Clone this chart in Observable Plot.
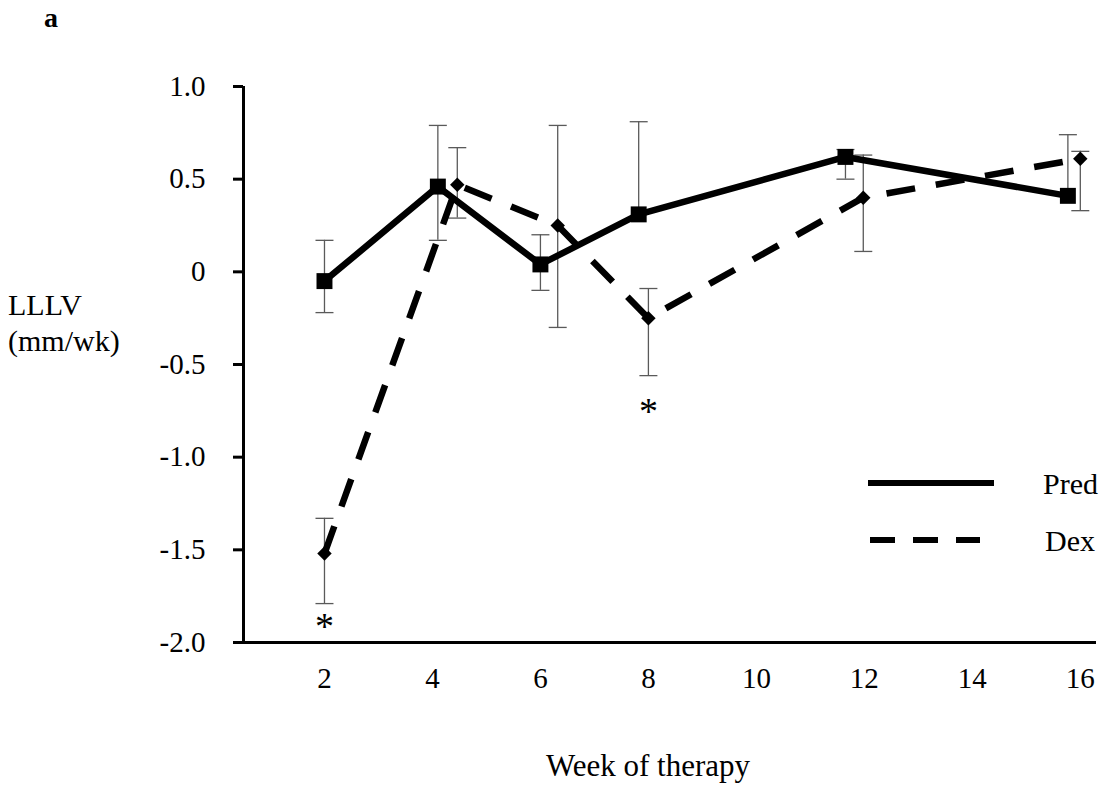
<!DOCTYPE html>
<html><head><meta charset="utf-8">
<script src="https://cdn.jsdelivr.net/npm/d3@7"></script>
<script src="https://cdn.jsdelivr.net/npm/@observablehq/plot@0.6"></script>
<style>
body{margin:0;background:#fff;}
#wrap{position:relative;width:1104px;height:785px;font-family:"Liberation Serif","Times New Roman",serif;color:#000;overflow:hidden;}
.abs{position:absolute;white-space:nowrap;}
#wrap svg g[aria-label$="tick label"]{font-size:29px;font-family:"Liberation Serif",serif;}
</style></head><body>
<div id="wrap">
  <div class="abs" style="left:44px;top:2px;font-size:28px;line-height:32px;font-weight:bold;">a</div>
  <div class="abs" style="left:8px;top:287px;font-size:30px;line-height:36px;">LLLV<br>(mm/wk)</div>
  <div class="abs" style="left:648px;top:748px;transform:translateX(-50%);font-size:31px;">Week of therapy</div>
  <svg class="abs" style="left:860px;top:455px;" width="244" height="110">
    <line x1="8" x2="134" y1="28" y2="28" stroke="#000" stroke-width="6"/>
    <line x1="10" x2="120" y1="85" y2="85" stroke="#000" stroke-width="6" stroke-dasharray="25,18"/>
    <text x="183" y="28" dy="0.35em" font-size="30" font-family="Liberation Serif">Pred</text>
    <text x="185" y="85" dy="0.35em" font-size="30" font-family="Liberation Serif">Dex</text>
  </svg>
</div>
<script>
// x tick labels (week of therapy)
const weeks = [2, 4, 6, 8, 10, 12, 14, 16];
const yTicks = [1, 0.5, 0, -0.5, -1, -1.5, -2];
const yTickLabels = ["1.0", "0.5", "0", "-0.5", "-1.0", "-1.5", "-2.0"];

// Pred series (plotted week position, mean, error bar top, error bar bottom)
const predX  = [2.0, 4.1, 6.0, 7.82, 11.65, 15.77];
const predY  = [-0.05, 0.46, 0.04, 0.31, 0.62, 0.41];
const predHi = [0.17, 0.79, 0.20, 0.81, 0.66, 0.74];
const predLo = [-0.22, 0.17, -0.10, 0.31, 0.50, 0.41];

// Dex series
const dexX  = [2.0, 4.46, 6.32, 8.0, 11.98, 16.0];
const dexY  = [-1.52, 0.47, 0.25, -0.25, 0.40, 0.61];
const dexHi = [-1.33, 0.67, 0.79, -0.09, 0.63, 0.65];
const dexLo = [-1.79, 0.29, -0.30, -0.56, 0.11, 0.33];

// significance markers
const starX = [2.0, 8.0];
const starY = [-1.88, -0.72];

const pred = predX.map((x, i) => ({x, y: predY[i], hi: predHi[i], lo: predLo[i]}));
const dex = dexX.map((x, i) => ({x, y: dexY[i], hi: dexHi[i], lo: dexLo[i]}));
const all = pred.concat(dex);
const stars = starX.map((x, i) => ({x, y: starY[i]}));

const cap = {draw(ctx) { ctx.moveTo(-9, 0); ctx.lineTo(9, 0); }};
const errColor = "#5a5a5a";

const chart = Plot.plot({
  width: 1104,
  height: 785,
  marginLeft: 243,
  marginRight: 8,
  marginTop: 86,
  marginBottom: 143,
  style: {fontFamily: "Liberation Serif, Times New Roman, serif", fontSize: "28px", background: "transparent", color: "#000"},
  x: {domain: [0.5, 16.3]},
  y: {domain: [-2, 1]},
  marks: [
    Plot.ruleX(all, {x: "x", y1: "lo", y2: "hi", stroke: errColor, strokeWidth: 1.3}),
    Plot.dot(all, {x: "x", y: "hi", symbol: cap, stroke: errColor, strokeWidth: 1.3, fill: "none"}),
    Plot.dot(all.filter(d => d.lo < d.y), {x: "x", y: "lo", symbol: cap, stroke: errColor, strokeWidth: 1.3, fill: "none"}),
    Plot.line(pred, {x: "x", y: "y", stroke: "#000", strokeWidth: 6.5, strokeLinejoin: "miter", strokeLinecap: "butt"}),
    Plot.line(dex, {x: "x", y: "y", stroke: "#000", strokeWidth: 6.5, strokeDasharray: "29,21", strokeLinejoin: "miter", strokeLinecap: "butt"}),
    Plot.dot(pred, {x: "x", y: "y", symbol: "square", r: 9, fill: "#000", stroke: "none"}),
    Plot.dot(dex, {x: "x", y: "y", symbol: "diamond2", r: 6.5, fill: "#000", stroke: "none"}),
    Plot.text(stars, {x: "x", y: "y", text: () => "*", fontSize: 38, fill: "#000", dy: 7}),
    Plot.ruleX([0.5], {stroke: "#000", strokeWidth: 3}),
    Plot.ruleY([-2], {stroke: "#000", strokeWidth: 3}),
    Plot.axisY({ticks: yTicks, tickFormat: d => yTickLabels[yTicks.indexOf(d)], tickSize: 10, tickPadding: 28, strokeWidth: 3, fontSize: 29, label: null, color: "#000"}),
    Plot.axisX({ticks: weeks, tickFormat: d => String(d), tickSize: 0, tickPadding: 25, fontSize: 29, label: null, color: "#000"})
  ]
});
chart.style.position = "absolute";
chart.style.left = "0";
chart.style.top = "0";
document.getElementById("wrap").prepend(chart);
</script>
</body></html>
